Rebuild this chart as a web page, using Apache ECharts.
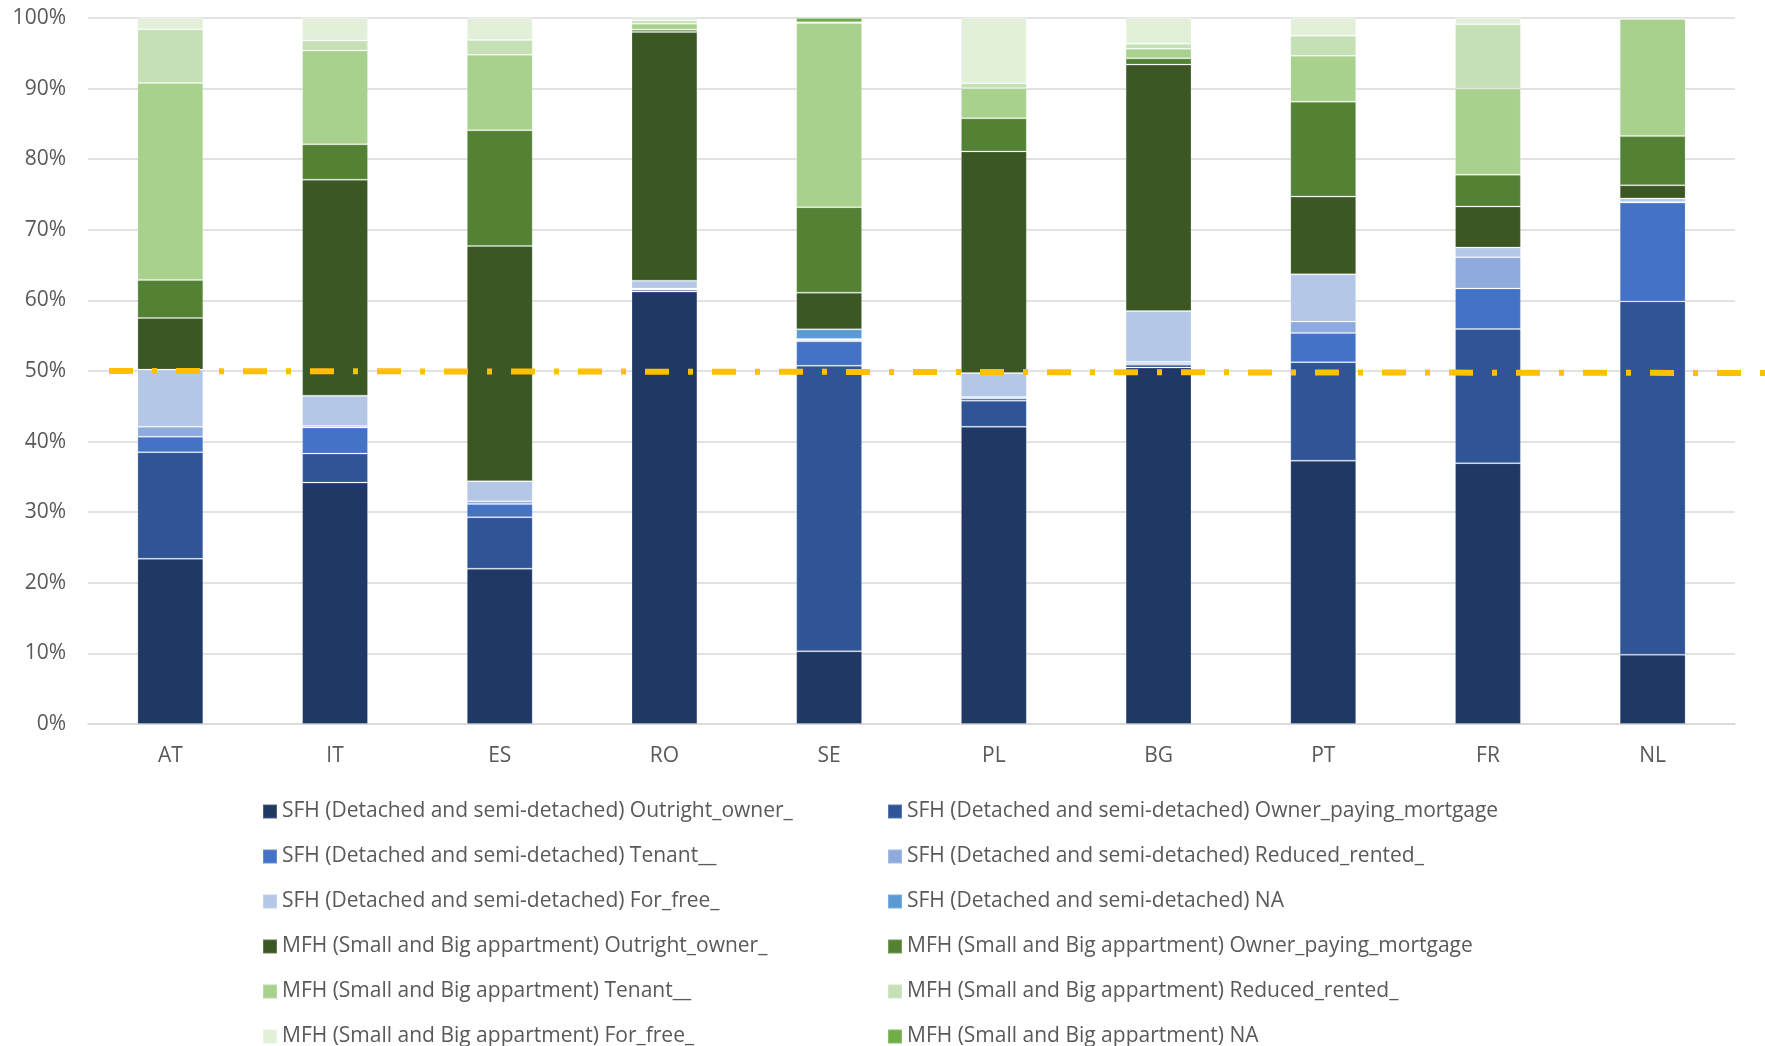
<!DOCTYPE html>
<html>
<head>
<meta charset="utf-8">
<title>SFH / MFH tenure</title>
<script src="https://cdn.jsdelivr.net/npm/echarts/dist/echarts.min.js"></script>
<style>
    html, body { margin: 0; padding: 0; background: #fff; }
    #container { width: 1765px; height: 1046px; }
</style>
</head>
<body>
<div id="container"></div>
<script>
// countries on the x axis
var categories = ['AT', 'IT', 'ES', 'RO', 'SE', 'PL', 'BG', 'PT', 'FR', 'NL'];

// shares in %, bottom of the stack first
var sfhOutright = [23.4, 34.2, 22.0, 61.25, 10.3, 42.1, 50.5, 37.3, 36.95, 9.8];
var sfhMortgage = [15.1, 4.1, 7.3, 0.25, 40.45, 3.7, 0.4, 13.95, 19.0, 50.05];
var sfhTenant = [2.2, 3.7, 1.85, 0.1, 3.45, 0.35, 0.2, 4.15, 5.75, 14.0];
var sfhReduced = [1.4, 0.2, 0.4, 0.1, 0.2, 0.15, 0.2, 1.6, 4.4, 0.1];
var sfhFree = [8.1, 4.3, 2.85, 1.1, 0.15, 3.4, 7.2, 6.7, 1.4, 0.5];
var sfhNA = [0, 0, 0, 0, 1.35, 0, 0, 0, 0, 0];
var mfhOutright = [7.3, 30.6, 33.3, 35.2, 5.2, 31.4, 34.9, 11.0, 5.8, 1.85];
var mfhMortgage = [5.4, 5.0, 16.4, 0.35, 12.1, 4.7, 0.9, 13.45, 4.5, 7.0];
var mfhTenant = [27.9, 13.3, 10.7, 0.85, 26.1, 4.25, 1.35, 6.5, 12.2, 16.55];
var mfhReduced = [7.6, 1.4, 2.1, 0.45, 0.1, 0.7, 0.7, 2.85, 9.1, 0.15];
var mfhFree = [1.6, 3.2, 3.1, 0.4, 0, 9.25, 3.65, 2.5, 0.9, 0.05];
var mfhNA = [0, 0, 0, 0, 0.6, 0, 0, 0, 0, 0];

// y axis ticks and the 50% reference
var yTicks = [0, 10, 20, 30, 40, 50, 60, 70, 80, 90, 100];
var refLevel = 50;

var seriesDef = [
    {name: 'SFH (Detached and semi-detached) Outright_owner_', data: sfhOutright, color: '#203864'},
    {name: 'SFH (Detached and semi-detached) Owner_paying_mortgage', data: sfhMortgage, color: '#2F5597'},
    {name: 'SFH (Detached and semi-detached) Tenant__', data: sfhTenant, color: '#4472C4'},
    {name: 'SFH (Detached and semi-detached) Reduced_rented_', data: sfhReduced, color: '#8FAADC'},
    {name: 'SFH (Detached and semi-detached) For_free_', data: sfhFree, color: '#B4C7E7'},
    {name: 'SFH (Detached and semi-detached) NA', data: sfhNA, color: '#5B9BD5'},
    {name: 'MFH (Small and Big appartment) Outright_owner_', data: mfhOutright, color: '#3A5724'},
    {name: 'MFH (Small and Big appartment) Owner_paying_mortgage', data: mfhMortgage, color: '#548235'},
    {name: 'MFH (Small and Big appartment) Tenant__', data: mfhTenant, color: '#A9D18E'},
    {name: 'MFH (Small and Big appartment) Reduced_rented_', data: mfhReduced, color: '#C5E0B4'},
    {name: 'MFH (Small and Big appartment) For_free_', data: mfhFree, color: '#E2F0D9'},
    {name: 'MFH (Small and Big appartment) NA', data: mfhNA, color: '#70AD47'}
];

var fontFamily = '"Open Sans", "Noto Sans", sans-serif';
var textColor = '#595959';

var series = seriesDef.map(function (s) {
    return {
        name: s.name,
        type: 'bar',
        stack: 'total',
        barWidth: '40%',
        data: s.data,
        itemStyle: {
            color: s.color,
            borderColor: 'rgba(255,255,255,0.2)',
            borderWidth: 1
        },
        emphasis: {disabled: true}
    };
});

// two legend columns: even index left, odd index right
var leftNames = [], rightNames = [];
seriesDef.forEach(function (s, i) {
    (i % 2 === 0 ? leftNames : rightNames).push(s.name);
});
function makeLegend(names, left) {
    return {
        orient: 'vertical',
        left: left,
        top: 796,
        height: 300,
        data: names,
        icon: 'rect',
        itemWidth: 14,
        itemHeight: 14,
        itemGap: 24,
        selectedMode: false,
        textStyle: {
            color: textColor,
            fontFamily: fontFamily,
            fontSize: 21
        }
    };
}

var option = {
    animation: false,
    color: seriesDef.map(function (s) { return s.color; }),
    grid: {
        left: 88,
        right: 30,
        top: 18,
        bottom: 322,
        containLabel: false
    },
    legend: [makeLegend(leftNames, 257), makeLegend(rightNames, 882)],
    xAxis: {
        type: 'category',
        data: categories,
        axisLine: {lineStyle: {color: '#D9D9D9', width: 1.5}},
        axisTick: {show: false},
        axisLabel: {
            color: textColor,
            fontFamily: fontFamily,
            fontSize: 21,
            margin: 22
        }
    },
    yAxis: {
        type: 'value',
        min: yTicks[0],
        max: yTicks[yTicks.length - 1],
        interval: yTicks[1] - yTicks[0],
        axisLine: {show: false},
        axisTick: {show: false},
        axisLabel: {
            color: textColor,
            fontFamily: fontFamily,
            fontSize: 21,
            margin: 22,
            formatter: '{value}%'
        },
        splitLine: {lineStyle: {color: '#D9D9D9', width: 1.5}}
    },
    series: series
};

var chart = echarts.init(document.getElementById('container'));
chart.setOption(option);

// dash-dot 50% line, runs past the plot to the right edge
var yRef = chart.convertToPixel({yAxisIndex: 0}, refLevel);
chart.setOption({
    graphic: [{
        type: 'line',
        z: 100,
        shape: {x1: 109, y1: yRef, x2: 1765, y2: yRef + 2},
        style: {
            stroke: '#FFC000',
            lineWidth: 6,
            lineDash: [24, 19, 5, 19]
        }
    }]
});
</script>
</body>
</html>
